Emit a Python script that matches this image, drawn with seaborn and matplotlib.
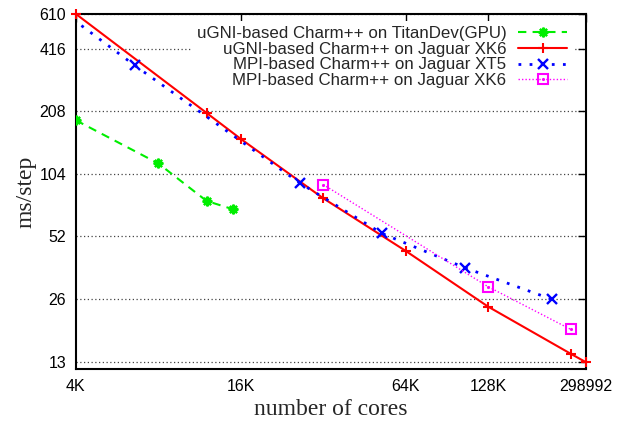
import pandas as pd
import matplotlib
matplotlib.use('Agg')
import matplotlib.pyplot as plt
from matplotlib.ticker import FixedLocator, FixedFormatter, NullLocator
import seaborn as sns

# Data (cores, ms/step)
titan_cores = [4096, 8192, 12288, 15360]
titan_ms = [188, 116.6, 77, 70.2]

xk6_ugni_cores = [4096, 12288, 16384, 32768, 65536, 131072, 262144, 298992]
xk6_ugni_ms = [610, 204, 153, 79.3, 44.3, 23.9, 14.2, 12.9]

xt5_mpi_cores = [2048, 6720, 26880, 53760, 107520, 224256]
xt5_mpi_ms = [1110, 345, 94, 53.7, 36.8, 25.9]

xk6_mpi_cores = [32768, 131072, 262144]
xk6_mpi_ms = [92.3, 29.8, 18.6]

x_ticks = [4096, 16384, 65536, 131072, 298992]
x_labels = ['4K', '16K', '64K', '128K', '298992']
y_ticks = [13, 26, 52, 104, 208, 416, 610]

sns.set_style('white')
plt.rcParams['font.family'] = ['Liberation Sans', 'DejaVu Sans']

fig, ax = plt.subplots(figsize=(6.17, 4.23), dpi=100)
fig.subplots_adjust(left=0.123, right=0.950, top=0.967, bottom=0.128)

titan = pd.DataFrame({'cores': titan_cores, 'ms': titan_ms})
ugni = pd.DataFrame({'cores': xk6_ugni_cores, 'ms': xk6_ugni_ms})
xt5 = pd.DataFrame({'cores': xt5_mpi_cores, 'ms': xt5_mpi_ms})
xk6 = pd.DataFrame({'cores': xk6_mpi_cores, 'ms': xk6_mpi_ms})

sns.lineplot(data=titan, x='cores', y='ms', ax=ax, color='#00ee00', lw=1.5,
             linestyle=(0, (4, 3)), marker=(8, 2, 0), markersize=7,
             markeredgewidth=1.6, markeredgecolor='#00ee00', zorder=3,
             estimator=None, sort=False, label='uGNI-based Charm++ on TitanDev(GPU)')
sns.lineplot(data=ugni, x='cores', y='ms', ax=ax, color='#ff0000', lw=1.5,
             linestyle='-', marker='+', markersize=7.5, markeredgewidth=1.5,
             markeredgecolor='#ff0000', zorder=3,
             estimator=None, sort=False, label='uGNI-based Charm++ on Jaguar XK6', clip_on=False)
sns.lineplot(data=xt5, x='cores', y='ms', ax=ax, color='#0000ff', lw=2,
             linestyle=(0, (1, 3)), marker='x', markersize=6.5, markeredgewidth=1.7,
             markeredgecolor='#0000ff', zorder=3,
             estimator=None, sort=False, label='MPI-based Charm++ on Jaguar XT5')
sns.lineplot(data=xk6, x='cores', y='ms', ax=ax, color='#ff00ff', lw=1,
             linestyle=(0, (1, 1.5)), marker='s', markersize=6.5, markeredgewidth=1.5,
             markerfacecolor='none', markeredgecolor='#ff00ff', zorder=3,
             estimator=None, sort=False, label='MPI-based Charm++ on Jaguar XK6')
dots = ax.plot(xk6_mpi_cores, xk6_mpi_ms, ls='none', marker='.', ms=2.5,
               color='#ff00ff', zorder=3)[0]

ax.set_xscale('log')
ax.set_yscale('log')
ax.set_xlim(4096, 298992)
ax.set_ylim(12, 610)

ax.xaxis.set_major_locator(FixedLocator(x_ticks))
ax.xaxis.set_major_formatter(FixedFormatter(x_labels))
ax.xaxis.set_minor_locator(NullLocator())
ax.yaxis.set_major_locator(FixedLocator(y_ticks))
ax.yaxis.set_major_formatter(FixedFormatter([str(v) for v in y_ticks]))
ax.yaxis.set_minor_locator(NullLocator())
ax.tick_params(direction='in', length=6, width=1, labelsize=11.5, colors='black',
               top=True, right=True, pad=7)

ax.yaxis.grid(True, color='#444444', linestyle=(0, (1, 2)), linewidth=0.9)
ax.xaxis.grid(False)
ax.set_axisbelow(True)
for s in ax.spines.values():
    s.set_color('black')
    s.set_linewidth(1.5)

ax.set_xlabel('number of cores', family=['Liberation Serif'], fontsize=17, labelpad=4)
ax.set_ylabel('ms/step', family=['Liberation Serif'], fontsize=17, labelpad=2)

handles, labels = ax.get_legend_handles_labels()
handles[3] = (handles[3], dots)
leg = ax.legend(handles, labels, loc='upper right', bbox_to_anchor=(0.99, 1.005),
                markerfirst=False, fontsize=12.2, handlelength=2.9, handletextpad=0.7,
                labelspacing=0.05, frameon=True, facecolor='white', edgecolor='none',
                framealpha=1, fancybox=False, borderpad=0.3)
# legend box hides the gridlines but stays beneath the data lines
leg.set_zorder(1)

fig.savefig('out.png', dpi=100)
